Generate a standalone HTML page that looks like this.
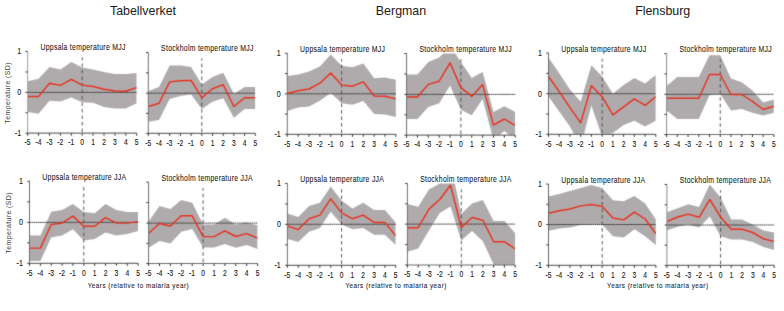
<!DOCTYPE html>
<html><head><meta charset="utf-8"><style>
html,body{margin:0;padding:0;background:#fff;}
body{width:784px;height:311px;overflow:hidden;}
svg{display:block;}
text{font-family:"Liberation Sans",sans-serif;}
</style></head><body>
<svg width="784" height="311" viewBox="0 0 784 311">
<rect width="784" height="311" fill="#fff"/>
<filter id="soft" x="0" y="0" width="784" height="311" filterUnits="userSpaceOnUse" color-interpolation-filters="sRGB"><feConvolveMatrix order="3" kernelMatrix="1 2 1 2 20 2 1 2 1" edgeMode="duplicate" preserveAlpha="true"/></filter>
<g filter="url(#soft)">
<rect width="784" height="311" fill="#fff"/>
<clipPath id="c0"><rect x="27.7" y="51.5" width="109" height="81.7"/></clipPath>
<g clip-path="url(#c0)">
<polygon points="27.7,81.2 38.6,78.8 49.5,66.9 60.4,69.5 71.3,62.1 82.2,67.6 93.1,69.5 104,72 114.9,73.9 125.8,73.9 136.7,73 136.7,103.3 125.8,108.6 114.9,108.6 104,106.9 93.1,102.8 82.2,102.3 71.3,97.5 60.4,101.4 49.5,100.8 38.6,113.7 27.7,112" fill="#afabac"/>
</g>
<line x1="27.7" y1="92.4" x2="136.7" y2="92.4" stroke="#303030" stroke-width="0.95" stroke-dasharray="1.6 0.5"/>
<line x1="82.2" y1="132" x2="82.2" y2="57.3" stroke="#4a4a4a" stroke-width="0.9" stroke-dasharray="3.6 2.9"/>
<g clip-path="url(#c0)"><polyline points="27.7,96.4 38.6,96.4 49.5,83.3 60.4,85.4 71.3,79.3 82.2,85.1 93.1,86.5 104,89.2 114.9,91 125.8,91.2 136.7,87.6" fill="none" stroke="#e8311f" stroke-width="1.45" stroke-linejoin="round"/></g>
<line x1="27.7" y1="51.5" x2="27.7" y2="133.2" stroke="#9c9c9c" stroke-width="1"/>
<line x1="27.7" y1="133.2" x2="136.7" y2="133.2" stroke="#6e6e6e" stroke-width="1.2"/>
<line x1="25.5" y1="51.5" x2="27.7" y2="51.5" stroke="#333333" stroke-width="1"/>
<line x1="25.5" y1="71.95" x2="27.7" y2="71.95" stroke="#333333" stroke-width="1"/>
<line x1="25.5" y1="92.4" x2="27.7" y2="92.4" stroke="#333333" stroke-width="1"/>
<line x1="25.5" y1="112.8" x2="27.7" y2="112.8" stroke="#333333" stroke-width="1"/>
<line x1="25.5" y1="133.2" x2="27.7" y2="133.2" stroke="#333333" stroke-width="1"/>
<line x1="27.7" y1="133.2" x2="27.7" y2="135.7" stroke="#333333" stroke-width="1"/>
<line x1="38.6" y1="133.2" x2="38.6" y2="135.7" stroke="#333333" stroke-width="1"/>
<line x1="49.5" y1="133.2" x2="49.5" y2="135.7" stroke="#333333" stroke-width="1"/>
<line x1="60.4" y1="133.2" x2="60.4" y2="135.7" stroke="#333333" stroke-width="1"/>
<line x1="71.3" y1="133.2" x2="71.3" y2="135.7" stroke="#333333" stroke-width="1"/>
<line x1="82.2" y1="133.2" x2="82.2" y2="135.7" stroke="#333333" stroke-width="1"/>
<line x1="93.1" y1="133.2" x2="93.1" y2="135.7" stroke="#333333" stroke-width="1"/>
<line x1="104" y1="133.2" x2="104" y2="135.7" stroke="#333333" stroke-width="1"/>
<line x1="114.9" y1="133.2" x2="114.9" y2="135.7" stroke="#333333" stroke-width="1"/>
<line x1="125.8" y1="133.2" x2="125.8" y2="135.7" stroke="#333333" stroke-width="1"/>
<line x1="136.7" y1="133.2" x2="136.7" y2="135.7" stroke="#333333" stroke-width="1"/>
<clipPath id="c1"><rect x="148.3" y="52.5" width="107" height="80.9"/></clipPath>
<g clip-path="url(#c1)">
<polygon points="148.3,91 159,87 169.7,65.4 180.4,65.4 191.1,66.9 201.8,84.4 212.5,77.1 223.2,72.7 233.9,93.8 244.6,87 255.3,87 255.3,109.1 244.6,109.1 233.9,117.8 223.2,98.2 212.5,101.8 201.8,109.1 191.1,94.5 180.4,96 169.7,98.9 159,120 148.3,121.7" fill="#afabac"/>
</g>
<line x1="148.3" y1="93.2" x2="255.3" y2="93.2" stroke="#303030" stroke-width="0.95" stroke-dasharray="1.6 0.5"/>
<line x1="201.8" y1="132.2" x2="201.8" y2="58.3" stroke="#4a4a4a" stroke-width="0.9" stroke-dasharray="3.6 2.9"/>
<g clip-path="url(#c1)"><polyline points="148.3,106.5 159,103.3 169.7,81.9 180.4,80.7 191.1,80.4 201.8,97.7 212.5,88.7 223.2,84.8 233.9,106.5 244.6,97.7 255.3,97.7" fill="none" stroke="#e8311f" stroke-width="1.45" stroke-linejoin="round"/></g>
<line x1="148.3" y1="52.5" x2="148.3" y2="133.4" stroke="#6e6e6e" stroke-width="1"/>
<line x1="148.3" y1="133.4" x2="255.3" y2="133.4" stroke="#6e6e6e" stroke-width="1.2"/>
<line x1="146.1" y1="52.5" x2="148.3" y2="52.5" stroke="#333333" stroke-width="1"/>
<line x1="146.1" y1="72.85" x2="148.3" y2="72.85" stroke="#333333" stroke-width="1"/>
<line x1="146.1" y1="93.2" x2="148.3" y2="93.2" stroke="#333333" stroke-width="1"/>
<line x1="146.1" y1="113.3" x2="148.3" y2="113.3" stroke="#333333" stroke-width="1"/>
<line x1="146.1" y1="133.4" x2="148.3" y2="133.4" stroke="#333333" stroke-width="1"/>
<line x1="148.3" y1="133.4" x2="148.3" y2="135.9" stroke="#333333" stroke-width="1"/>
<line x1="159" y1="133.4" x2="159" y2="135.9" stroke="#333333" stroke-width="1"/>
<line x1="169.7" y1="133.4" x2="169.7" y2="135.9" stroke="#333333" stroke-width="1"/>
<line x1="180.4" y1="133.4" x2="180.4" y2="135.9" stroke="#333333" stroke-width="1"/>
<line x1="191.1" y1="133.4" x2="191.1" y2="135.9" stroke="#333333" stroke-width="1"/>
<line x1="201.8" y1="133.4" x2="201.8" y2="135.9" stroke="#333333" stroke-width="1"/>
<line x1="212.5" y1="133.4" x2="212.5" y2="135.9" stroke="#333333" stroke-width="1"/>
<line x1="223.2" y1="133.4" x2="223.2" y2="135.9" stroke="#333333" stroke-width="1"/>
<line x1="233.9" y1="133.4" x2="233.9" y2="135.9" stroke="#333333" stroke-width="1"/>
<line x1="244.6" y1="133.4" x2="244.6" y2="135.9" stroke="#333333" stroke-width="1"/>
<line x1="255.3" y1="133.4" x2="255.3" y2="135.9" stroke="#333333" stroke-width="1"/>
<clipPath id="c2"><rect x="287.3" y="53.3" width="108.6" height="81"/></clipPath>
<g clip-path="url(#c2)">
<polygon points="287.3,76.1 298.16,74.6 309.02,71.6 319.88,66.6 330.74,54.5 341.6,65.7 352.46,67.2 363.32,63.6 374.18,78.2 385.04,77.4 395.9,79.7 395.9,117.1 385.04,114.6 374.18,113.9 363.32,101.1 352.46,104.7 341.6,103.3 330.74,93.1 319.88,100.8 309.02,106.5 298.16,107.6 287.3,111" fill="#afabac"/>
</g>
<line x1="287.3" y1="93.8" x2="395.9" y2="93.8" stroke="#303030" stroke-width="0.95" stroke-dasharray="1.6 0.5"/>
<line x1="341.6" y1="133.1" x2="341.6" y2="59.1" stroke="#4a4a4a" stroke-width="0.9" stroke-dasharray="3.6 2.9"/>
<g clip-path="url(#c2)"><polyline points="287.3,93.5 298.16,90.8 309.02,89 319.88,83.2 330.74,73 341.6,85.1 352.46,86.2 363.32,81.9 374.18,96 385.04,96.3 395.9,98.9" fill="none" stroke="#e8311f" stroke-width="1.45" stroke-linejoin="round"/></g>
<line x1="287.3" y1="53.3" x2="287.3" y2="134.3" stroke="#6e6e6e" stroke-width="1"/>
<line x1="287.3" y1="134.3" x2="395.9" y2="134.3" stroke="#6e6e6e" stroke-width="1.2"/>
<line x1="285.1" y1="53.3" x2="287.3" y2="53.3" stroke="#333333" stroke-width="1"/>
<line x1="285.1" y1="73.55" x2="287.3" y2="73.55" stroke="#333333" stroke-width="1"/>
<line x1="285.1" y1="93.8" x2="287.3" y2="93.8" stroke="#333333" stroke-width="1"/>
<line x1="285.1" y1="114.05" x2="287.3" y2="114.05" stroke="#333333" stroke-width="1"/>
<line x1="285.1" y1="134.3" x2="287.3" y2="134.3" stroke="#333333" stroke-width="1"/>
<line x1="287.3" y1="134.3" x2="287.3" y2="136.8" stroke="#333333" stroke-width="1"/>
<line x1="298.16" y1="134.3" x2="298.16" y2="136.8" stroke="#333333" stroke-width="1"/>
<line x1="309.02" y1="134.3" x2="309.02" y2="136.8" stroke="#333333" stroke-width="1"/>
<line x1="319.88" y1="134.3" x2="319.88" y2="136.8" stroke="#333333" stroke-width="1"/>
<line x1="330.74" y1="134.3" x2="330.74" y2="136.8" stroke="#333333" stroke-width="1"/>
<line x1="341.6" y1="134.3" x2="341.6" y2="136.8" stroke="#333333" stroke-width="1"/>
<line x1="352.46" y1="134.3" x2="352.46" y2="136.8" stroke="#333333" stroke-width="1"/>
<line x1="363.32" y1="134.3" x2="363.32" y2="136.8" stroke="#333333" stroke-width="1"/>
<line x1="374.18" y1="134.3" x2="374.18" y2="136.8" stroke="#333333" stroke-width="1"/>
<line x1="385.04" y1="134.3" x2="385.04" y2="136.8" stroke="#333333" stroke-width="1"/>
<line x1="395.9" y1="134.3" x2="395.9" y2="136.8" stroke="#333333" stroke-width="1"/>
<clipPath id="c3"><rect x="406.6" y="53.5" width="108.6" height="81.7"/></clipPath>
<g clip-path="url(#c3)">
<polygon points="406.6,74.5 417.46,74.5 428.32,62.1 439.18,57.5 450.04,46.3 460.9,62 471.76,78 482.62,72 493.48,112 504.34,106.2 515.2,112 515.2,140 504.34,130.9 493.48,140 482.62,98.9 471.76,115.3 460.9,109.8 450.04,85.5 439.18,103.3 428.32,106.9 417.46,119 406.6,119" fill="#afabac"/>
</g>
<line x1="406.6" y1="94.4" x2="515.2" y2="94.4" stroke="#303030" stroke-width="0.95" stroke-dasharray="1.6 0.5"/>
<line x1="460.9" y1="134" x2="460.9" y2="59.3" stroke="#4a4a4a" stroke-width="0.9" stroke-dasharray="3.6 2.9"/>
<g clip-path="url(#c3)"><polyline points="406.6,97 417.46,97 428.32,84.4 439.18,81.2 450.04,62.8 460.9,87.6 471.76,96.4 482.62,84.6 493.48,125.1 504.34,119 515.2,125.5" fill="none" stroke="#e8311f" stroke-width="1.45" stroke-linejoin="round"/></g>
<line x1="406.6" y1="53.5" x2="406.6" y2="135.2" stroke="#6e6e6e" stroke-width="1"/>
<line x1="406.6" y1="135.2" x2="515.2" y2="135.2" stroke="#6e6e6e" stroke-width="1.2"/>
<line x1="404.4" y1="53.5" x2="406.6" y2="53.5" stroke="#333333" stroke-width="1"/>
<line x1="404.4" y1="73.95" x2="406.6" y2="73.95" stroke="#333333" stroke-width="1"/>
<line x1="404.4" y1="94.4" x2="406.6" y2="94.4" stroke="#333333" stroke-width="1"/>
<line x1="404.4" y1="114.8" x2="406.6" y2="114.8" stroke="#333333" stroke-width="1"/>
<line x1="404.4" y1="135.2" x2="406.6" y2="135.2" stroke="#333333" stroke-width="1"/>
<line x1="406.6" y1="135.2" x2="406.6" y2="137.7" stroke="#333333" stroke-width="1"/>
<line x1="417.46" y1="135.2" x2="417.46" y2="137.7" stroke="#333333" stroke-width="1"/>
<line x1="428.32" y1="135.2" x2="428.32" y2="137.7" stroke="#333333" stroke-width="1"/>
<line x1="439.18" y1="135.2" x2="439.18" y2="137.7" stroke="#333333" stroke-width="1"/>
<line x1="450.04" y1="135.2" x2="450.04" y2="137.7" stroke="#333333" stroke-width="1"/>
<line x1="460.9" y1="135.2" x2="460.9" y2="137.7" stroke="#333333" stroke-width="1"/>
<line x1="471.76" y1="135.2" x2="471.76" y2="137.7" stroke="#333333" stroke-width="1"/>
<line x1="482.62" y1="135.2" x2="482.62" y2="137.7" stroke="#333333" stroke-width="1"/>
<line x1="493.48" y1="135.2" x2="493.48" y2="137.7" stroke="#333333" stroke-width="1"/>
<line x1="504.34" y1="135.2" x2="504.34" y2="137.7" stroke="#333333" stroke-width="1"/>
<line x1="515.2" y1="135.2" x2="515.2" y2="137.7" stroke="#333333" stroke-width="1"/>
<clipPath id="c4"><rect x="548.5" y="53" width="107.3" height="81.3"/></clipPath>
<g clip-path="url(#c4)">
<polygon points="548.5,57.5 559.23,73.2 569.96,89.4 580.69,101.8 591.42,65.2 602.15,76.4 612.88,93.8 623.61,85.1 634.34,78.1 645.07,83.6 655.8,74.9 655.8,120.7 645.07,126.5 634.34,120.7 623.61,125.1 612.88,133 602.15,137 591.42,105.4 580.69,146.8 569.96,126.5 559.23,111.5 548.5,96.5" fill="#afabac"/>
</g>
<line x1="548.5" y1="93.7" x2="655.8" y2="93.7" stroke="#303030" stroke-width="0.95" stroke-dasharray="1.6 0.5"/>
<line x1="602.15" y1="133.1" x2="602.15" y2="58.8" stroke="#4a4a4a" stroke-width="0.9" stroke-dasharray="3.6 2.9"/>
<g clip-path="url(#c4)"><polyline points="548.5,76.4 559.23,91.6 569.96,107.6 580.69,122.9 591.42,85.8 602.15,96.7 612.88,114.9 623.61,106.9 634.34,98.9 645.07,105.4 655.8,96.7" fill="none" stroke="#e8311f" stroke-width="1.45" stroke-linejoin="round"/></g>
<line x1="548.5" y1="53" x2="548.5" y2="134.3" stroke="#6e6e6e" stroke-width="1"/>
<line x1="548.5" y1="134.3" x2="655.8" y2="134.3" stroke="#6e6e6e" stroke-width="1.2"/>
<line x1="546.3" y1="53" x2="548.5" y2="53" stroke="#333333" stroke-width="1"/>
<line x1="546.3" y1="73.35" x2="548.5" y2="73.35" stroke="#333333" stroke-width="1"/>
<line x1="546.3" y1="93.7" x2="548.5" y2="93.7" stroke="#333333" stroke-width="1"/>
<line x1="546.3" y1="114" x2="548.5" y2="114" stroke="#333333" stroke-width="1"/>
<line x1="546.3" y1="134.3" x2="548.5" y2="134.3" stroke="#333333" stroke-width="1"/>
<line x1="548.5" y1="134.3" x2="548.5" y2="136.8" stroke="#333333" stroke-width="1"/>
<line x1="559.23" y1="134.3" x2="559.23" y2="136.8" stroke="#333333" stroke-width="1"/>
<line x1="569.96" y1="134.3" x2="569.96" y2="136.8" stroke="#333333" stroke-width="1"/>
<line x1="580.69" y1="134.3" x2="580.69" y2="136.8" stroke="#333333" stroke-width="1"/>
<line x1="591.42" y1="134.3" x2="591.42" y2="136.8" stroke="#333333" stroke-width="1"/>
<line x1="602.15" y1="134.3" x2="602.15" y2="136.8" stroke="#333333" stroke-width="1"/>
<line x1="612.88" y1="134.3" x2="612.88" y2="136.8" stroke="#333333" stroke-width="1"/>
<line x1="623.61" y1="134.3" x2="623.61" y2="136.8" stroke="#333333" stroke-width="1"/>
<line x1="634.34" y1="134.3" x2="634.34" y2="136.8" stroke="#333333" stroke-width="1"/>
<line x1="645.07" y1="134.3" x2="645.07" y2="136.8" stroke="#333333" stroke-width="1"/>
<line x1="655.8" y1="134.3" x2="655.8" y2="136.8" stroke="#333333" stroke-width="1"/>
<clipPath id="c5"><rect x="666.6" y="53.5" width="107.3" height="81"/></clipPath>
<g clip-path="url(#c5)">
<polygon points="666.6,86.1 677.33,77.1 688.06,77.1 698.79,77.1 709.52,55.3 720.25,55.3 730.98,78.5 741.71,82.2 752.44,90.5 763.17,102.5 773.9,99.6 773.9,112.7 763.17,115.6 752.44,112.7 741.71,109.1 730.98,110.5 720.25,94 709.52,95.3 698.79,119 688.06,119 677.33,119 666.6,110.5" fill="#afabac"/>
</g>
<line x1="666.6" y1="94.3" x2="773.9" y2="94.3" stroke="#303030" stroke-width="0.95" stroke-dasharray="1.6 0.5"/>
<line x1="720.25" y1="133.3" x2="720.25" y2="59.3" stroke="#4a4a4a" stroke-width="0.9" stroke-dasharray="3.6 2.9"/>
<g clip-path="url(#c5)"><polyline points="666.6,98.2 677.33,98.2 688.06,98.2 698.79,98.2 709.52,74.5 720.25,74.5 730.98,94.5 741.71,94.5 752.44,101.4 763.17,109.5 773.9,106.2" fill="none" stroke="#e8311f" stroke-width="1.45" stroke-linejoin="round"/></g>
<line x1="666.6" y1="53.5" x2="666.6" y2="134.5" stroke="#8a8a8a" stroke-width="1"/>
<line x1="666.6" y1="134.5" x2="773.9" y2="134.5" stroke="#6e6e6e" stroke-width="1.2"/>
<line x1="664.4" y1="53.5" x2="666.6" y2="53.5" stroke="#333333" stroke-width="1"/>
<line x1="664.4" y1="73.9" x2="666.6" y2="73.9" stroke="#333333" stroke-width="1"/>
<line x1="664.4" y1="94.3" x2="666.6" y2="94.3" stroke="#333333" stroke-width="1"/>
<line x1="664.4" y1="114.4" x2="666.6" y2="114.4" stroke="#333333" stroke-width="1"/>
<line x1="664.4" y1="134.5" x2="666.6" y2="134.5" stroke="#333333" stroke-width="1"/>
<line x1="666.6" y1="134.5" x2="666.6" y2="137" stroke="#333333" stroke-width="1"/>
<line x1="677.33" y1="134.5" x2="677.33" y2="137" stroke="#333333" stroke-width="1"/>
<line x1="688.06" y1="134.5" x2="688.06" y2="137" stroke="#333333" stroke-width="1"/>
<line x1="698.79" y1="134.5" x2="698.79" y2="137" stroke="#333333" stroke-width="1"/>
<line x1="709.52" y1="134.5" x2="709.52" y2="137" stroke="#333333" stroke-width="1"/>
<line x1="720.25" y1="134.5" x2="720.25" y2="137" stroke="#333333" stroke-width="1"/>
<line x1="730.98" y1="134.5" x2="730.98" y2="137" stroke="#333333" stroke-width="1"/>
<line x1="741.71" y1="134.5" x2="741.71" y2="137" stroke="#333333" stroke-width="1"/>
<line x1="752.44" y1="134.5" x2="752.44" y2="137" stroke="#333333" stroke-width="1"/>
<line x1="763.17" y1="134.5" x2="763.17" y2="137" stroke="#333333" stroke-width="1"/>
<line x1="773.9" y1="134.5" x2="773.9" y2="137" stroke="#333333" stroke-width="1"/>
<clipPath id="c6"><rect x="29.5" y="181.2" width="108.6" height="82.1"/></clipPath>
<g clip-path="url(#c6)">
<polygon points="29.5,235.5 40.36,235.5 51.22,211.7 62.08,210 72.94,203.9 83.8,211.9 94.66,213.3 105.52,203.9 116.38,210 127.24,211.9 138.1,211.9 138.1,231.1 127.24,234 116.38,235.5 105.52,232.5 94.66,239.1 83.8,240.5 72.94,229.3 62.08,235.5 51.22,237.6 40.36,260.9 29.5,260.9" fill="#afabac"/>
</g>
<line x1="29.5" y1="222.4" x2="138.1" y2="222.4" stroke="#303030" stroke-width="0.95" stroke-dasharray="1.6 0.5"/>
<line x1="83.8" y1="262.1" x2="83.8" y2="187" stroke="#4a4a4a" stroke-width="0.9" stroke-dasharray="3.6 2.9"/>
<g clip-path="url(#c6)"><polyline points="29.5,248.1 40.36,248.1 51.22,224.5 62.08,223.1 72.94,216.1 83.8,226.3 94.66,226.3 105.52,217.6 116.38,223.1 127.24,223.1 138.1,221.6" fill="none" stroke="#e8311f" stroke-width="1.45" stroke-linejoin="round"/></g>
<line x1="29.5" y1="181.2" x2="29.5" y2="263.3" stroke="#6e6e6e" stroke-width="1"/>
<line x1="29.5" y1="263.3" x2="138.1" y2="263.3" stroke="#6e6e6e" stroke-width="1.2"/>
<line x1="27.3" y1="181.2" x2="29.5" y2="181.2" stroke="#333333" stroke-width="1"/>
<line x1="27.3" y1="201.8" x2="29.5" y2="201.8" stroke="#333333" stroke-width="1"/>
<line x1="27.3" y1="222.4" x2="29.5" y2="222.4" stroke="#333333" stroke-width="1"/>
<line x1="27.3" y1="242.85" x2="29.5" y2="242.85" stroke="#333333" stroke-width="1"/>
<line x1="27.3" y1="263.3" x2="29.5" y2="263.3" stroke="#333333" stroke-width="1"/>
<line x1="29.5" y1="263.3" x2="29.5" y2="265.8" stroke="#333333" stroke-width="1"/>
<line x1="40.36" y1="263.3" x2="40.36" y2="265.8" stroke="#333333" stroke-width="1"/>
<line x1="51.22" y1="263.3" x2="51.22" y2="265.8" stroke="#333333" stroke-width="1"/>
<line x1="62.08" y1="263.3" x2="62.08" y2="265.8" stroke="#333333" stroke-width="1"/>
<line x1="72.94" y1="263.3" x2="72.94" y2="265.8" stroke="#333333" stroke-width="1"/>
<line x1="83.8" y1="263.3" x2="83.8" y2="265.8" stroke="#333333" stroke-width="1"/>
<line x1="94.66" y1="263.3" x2="94.66" y2="265.8" stroke="#333333" stroke-width="1"/>
<line x1="105.52" y1="263.3" x2="105.52" y2="265.8" stroke="#333333" stroke-width="1"/>
<line x1="116.38" y1="263.3" x2="116.38" y2="265.8" stroke="#333333" stroke-width="1"/>
<line x1="127.24" y1="263.3" x2="127.24" y2="265.8" stroke="#333333" stroke-width="1"/>
<line x1="138.1" y1="263.3" x2="138.1" y2="265.8" stroke="#333333" stroke-width="1"/>
<clipPath id="c7"><rect x="148.6" y="182.1" width="109" height="81.4"/></clipPath>
<g clip-path="url(#c7)">
<polygon points="148.6,221.6 159.5,206.1 170.4,209 181.3,200.1 192.2,202.7 203.1,224.5 214,224.5 224.9,217.7 235.8,224.5 246.7,222.5 257.6,225.3 257.6,249 246.7,244.9 235.8,247.8 224.9,243.9 214,247.5 203.1,247.5 192.2,228.9 181.3,231.8 170.4,243.4 159.5,241 148.6,247.8" fill="#afabac"/>
</g>
<line x1="148.6" y1="223.1" x2="257.6" y2="223.1" stroke="#303030" stroke-width="0.95" stroke-dasharray="1.6 0.5"/>
<line x1="203.1" y1="262.3" x2="203.1" y2="187.9" stroke="#4a4a4a" stroke-width="0.9" stroke-dasharray="3.6 2.9"/>
<g clip-path="url(#c7)"><polyline points="148.6,233.3 159.5,223.5 170.4,226 181.3,215.8 192.2,215.8 203.1,236.6 214,236.6 224.9,230.8 235.8,236.5 246.7,233.6 257.6,238.1" fill="none" stroke="#e8311f" stroke-width="1.45" stroke-linejoin="round"/></g>
<line x1="148.6" y1="182.1" x2="148.6" y2="263.5" stroke="#6e6e6e" stroke-width="1"/>
<line x1="148.6" y1="263.5" x2="257.6" y2="263.5" stroke="#6e6e6e" stroke-width="1.2"/>
<line x1="146.4" y1="182.1" x2="148.6" y2="182.1" stroke="#333333" stroke-width="1"/>
<line x1="146.4" y1="202.6" x2="148.6" y2="202.6" stroke="#333333" stroke-width="1"/>
<line x1="146.4" y1="223.1" x2="148.6" y2="223.1" stroke="#333333" stroke-width="1"/>
<line x1="146.4" y1="243.3" x2="148.6" y2="243.3" stroke="#333333" stroke-width="1"/>
<line x1="146.4" y1="263.5" x2="148.6" y2="263.5" stroke="#333333" stroke-width="1"/>
<line x1="148.6" y1="263.5" x2="148.6" y2="266" stroke="#333333" stroke-width="1"/>
<line x1="159.5" y1="263.5" x2="159.5" y2="266" stroke="#333333" stroke-width="1"/>
<line x1="170.4" y1="263.5" x2="170.4" y2="266" stroke="#333333" stroke-width="1"/>
<line x1="181.3" y1="263.5" x2="181.3" y2="266" stroke="#333333" stroke-width="1"/>
<line x1="192.2" y1="263.5" x2="192.2" y2="266" stroke="#333333" stroke-width="1"/>
<line x1="203.1" y1="263.5" x2="203.1" y2="266" stroke="#333333" stroke-width="1"/>
<line x1="214" y1="263.5" x2="214" y2="266" stroke="#333333" stroke-width="1"/>
<line x1="224.9" y1="263.5" x2="224.9" y2="266" stroke="#333333" stroke-width="1"/>
<line x1="235.8" y1="263.5" x2="235.8" y2="266" stroke="#333333" stroke-width="1"/>
<line x1="246.7" y1="263.5" x2="246.7" y2="266" stroke="#333333" stroke-width="1"/>
<line x1="257.6" y1="263.5" x2="257.6" y2="266" stroke="#333333" stroke-width="1"/>
<clipPath id="c8"><rect x="287.4" y="183.5" width="108.3" height="81.8"/></clipPath>
<g clip-path="url(#c8)">
<polygon points="287.4,213.6 298.23,217 309.06,206.1 319.89,202.7 330.72,186.4 341.55,200.5 352.38,208.5 363.21,202.7 374.04,210 384.87,210 395.7,222.4 395.7,244.9 384.87,234.7 374.04,234.7 363.21,227.9 352.38,229.3 341.55,224.5 330.72,211.7 319.89,227.9 309.06,231.8 298.23,242 287.4,239.1" fill="#afabac"/>
</g>
<line x1="287.4" y1="224.3" x2="395.7" y2="224.3" stroke="#303030" stroke-width="0.95" stroke-dasharray="1.6 0.5"/>
<line x1="341.55" y1="264.1" x2="341.55" y2="189.3" stroke="#4a4a4a" stroke-width="0.9" stroke-dasharray="3.6 2.9"/>
<g clip-path="url(#c8)"><polyline points="287.4,226 298.23,229.6 309.06,218.7 319.89,215.1 330.72,198.8 341.55,212.9 352.38,218.7 363.21,215.1 374.04,222.4 384.87,222.4 395.7,235.7" fill="none" stroke="#e8311f" stroke-width="1.45" stroke-linejoin="round"/></g>
<line x1="287.4" y1="183.5" x2="287.4" y2="265.3" stroke="#6e6e6e" stroke-width="1"/>
<line x1="287.4" y1="265.3" x2="395.7" y2="265.3" stroke="#6e6e6e" stroke-width="1.2"/>
<line x1="285.2" y1="183.5" x2="287.4" y2="183.5" stroke="#333333" stroke-width="1"/>
<line x1="285.2" y1="203.9" x2="287.4" y2="203.9" stroke="#333333" stroke-width="1"/>
<line x1="285.2" y1="224.3" x2="287.4" y2="224.3" stroke="#333333" stroke-width="1"/>
<line x1="285.2" y1="244.8" x2="287.4" y2="244.8" stroke="#333333" stroke-width="1"/>
<line x1="285.2" y1="265.3" x2="287.4" y2="265.3" stroke="#333333" stroke-width="1"/>
<line x1="287.4" y1="265.3" x2="287.4" y2="267.8" stroke="#333333" stroke-width="1"/>
<line x1="298.23" y1="265.3" x2="298.23" y2="267.8" stroke="#333333" stroke-width="1"/>
<line x1="309.06" y1="265.3" x2="309.06" y2="267.8" stroke="#333333" stroke-width="1"/>
<line x1="319.89" y1="265.3" x2="319.89" y2="267.8" stroke="#333333" stroke-width="1"/>
<line x1="330.72" y1="265.3" x2="330.72" y2="267.8" stroke="#333333" stroke-width="1"/>
<line x1="341.55" y1="265.3" x2="341.55" y2="267.8" stroke="#333333" stroke-width="1"/>
<line x1="352.38" y1="265.3" x2="352.38" y2="267.8" stroke="#333333" stroke-width="1"/>
<line x1="363.21" y1="265.3" x2="363.21" y2="267.8" stroke="#333333" stroke-width="1"/>
<line x1="374.04" y1="265.3" x2="374.04" y2="267.8" stroke="#333333" stroke-width="1"/>
<line x1="384.87" y1="265.3" x2="384.87" y2="267.8" stroke="#333333" stroke-width="1"/>
<line x1="395.7" y1="265.3" x2="395.7" y2="267.8" stroke="#333333" stroke-width="1"/>
<clipPath id="c9"><rect x="407.4" y="183.5" width="107.8" height="81.5"/></clipPath>
<g clip-path="url(#c9)">
<polygon points="407.4,203.9 418.18,206.8 428.96,189.4 439.74,183.5 450.52,163 461.3,214 472.08,203.4 482.86,200.1 493.64,220.9 504.42,220.9 515.2,233.3 515.2,275 504.42,275 493.64,264.5 482.86,241.3 472.08,231.1 461.3,240.5 450.52,206.5 439.74,213 428.96,230.4 418.18,248.5 407.4,251.7" fill="#afabac"/>
</g>
<line x1="407.4" y1="224.1" x2="515.2" y2="224.1" stroke="#303030" stroke-width="0.95" stroke-dasharray="1.6 0.5"/>
<line x1="461.3" y1="263.8" x2="461.3" y2="189.3" stroke="#4a4a4a" stroke-width="0.9" stroke-dasharray="3.6 2.9"/>
<g clip-path="url(#c9)"><polyline points="407.4,227.7 418.18,227.7 428.96,209.1 439.74,199.5 450.52,185.3 461.3,227.5 472.08,217.5 482.86,220.2 493.64,241.7 504.42,241.7 515.2,249" fill="none" stroke="#e8311f" stroke-width="1.45" stroke-linejoin="round"/></g>
<line x1="407.4" y1="183.5" x2="407.4" y2="265" stroke="#6e6e6e" stroke-width="1"/>
<line x1="407.4" y1="265" x2="515.2" y2="265" stroke="#6e6e6e" stroke-width="1.2"/>
<line x1="405.2" y1="183.5" x2="407.4" y2="183.5" stroke="#333333" stroke-width="1"/>
<line x1="405.2" y1="203.8" x2="407.4" y2="203.8" stroke="#333333" stroke-width="1"/>
<line x1="405.2" y1="224.1" x2="407.4" y2="224.1" stroke="#333333" stroke-width="1"/>
<line x1="405.2" y1="244.55" x2="407.4" y2="244.55" stroke="#333333" stroke-width="1"/>
<line x1="405.2" y1="265" x2="407.4" y2="265" stroke="#333333" stroke-width="1"/>
<line x1="407.4" y1="265" x2="407.4" y2="267.5" stroke="#333333" stroke-width="1"/>
<line x1="418.18" y1="265" x2="418.18" y2="267.5" stroke="#333333" stroke-width="1"/>
<line x1="428.96" y1="265" x2="428.96" y2="267.5" stroke="#333333" stroke-width="1"/>
<line x1="439.74" y1="265" x2="439.74" y2="267.5" stroke="#333333" stroke-width="1"/>
<line x1="450.52" y1="265" x2="450.52" y2="267.5" stroke="#333333" stroke-width="1"/>
<line x1="461.3" y1="265" x2="461.3" y2="267.5" stroke="#333333" stroke-width="1"/>
<line x1="472.08" y1="265" x2="472.08" y2="267.5" stroke="#333333" stroke-width="1"/>
<line x1="482.86" y1="265" x2="482.86" y2="267.5" stroke="#333333" stroke-width="1"/>
<line x1="493.64" y1="265" x2="493.64" y2="267.5" stroke="#333333" stroke-width="1"/>
<line x1="504.42" y1="265" x2="504.42" y2="267.5" stroke="#333333" stroke-width="1"/>
<line x1="515.2" y1="265" x2="515.2" y2="267.5" stroke="#333333" stroke-width="1"/>
<clipPath id="c10"><rect x="548.5" y="184.1" width="107.4" height="81.2"/></clipPath>
<g clip-path="url(#c10)">
<polygon points="548.5,196.6 559.24,194 569.98,191.1 580.72,187.9 591.46,185 602.2,187.9 612.94,200.2 623.68,201.3 634.42,195.9 645.16,203.4 655.9,219.4 655.9,244.9 645.16,236.2 634.42,229.3 623.68,237.6 612.94,236.2 602.2,224.5 591.46,224.5 580.72,225 569.98,227.5 559.24,228.5 548.5,230.7" fill="#afabac"/>
</g>
<line x1="548.5" y1="224.5" x2="655.9" y2="224.5" stroke="#303030" stroke-width="0.95" stroke-dasharray="1.6 0.5"/>
<line x1="602.2" y1="264.1" x2="602.2" y2="189.9" stroke="#4a4a4a" stroke-width="0.9" stroke-dasharray="3.6 2.9"/>
<g clip-path="url(#c10)"><polyline points="548.5,213.3 559.24,210.7 569.98,209 580.72,205.9 591.46,204.5 602.2,206.4 612.94,218 623.68,219.9 634.42,212.2 645.16,219 655.9,233.7" fill="none" stroke="#e8311f" stroke-width="1.45" stroke-linejoin="round"/></g>
<line x1="548.5" y1="184.1" x2="548.5" y2="265.3" stroke="#666666" stroke-width="1"/>
<line x1="548.5" y1="265.3" x2="655.9" y2="265.3" stroke="#6e6e6e" stroke-width="1.2"/>
<line x1="546.3" y1="184.1" x2="548.5" y2="184.1" stroke="#333333" stroke-width="1"/>
<line x1="546.3" y1="204.3" x2="548.5" y2="204.3" stroke="#333333" stroke-width="1"/>
<line x1="546.3" y1="224.5" x2="548.5" y2="224.5" stroke="#333333" stroke-width="1"/>
<line x1="546.3" y1="244.9" x2="548.5" y2="244.9" stroke="#333333" stroke-width="1"/>
<line x1="546.3" y1="265.3" x2="548.5" y2="265.3" stroke="#333333" stroke-width="1"/>
<line x1="548.5" y1="265.3" x2="548.5" y2="267.8" stroke="#333333" stroke-width="1"/>
<line x1="559.24" y1="265.3" x2="559.24" y2="267.8" stroke="#333333" stroke-width="1"/>
<line x1="569.98" y1="265.3" x2="569.98" y2="267.8" stroke="#333333" stroke-width="1"/>
<line x1="580.72" y1="265.3" x2="580.72" y2="267.8" stroke="#333333" stroke-width="1"/>
<line x1="591.46" y1="265.3" x2="591.46" y2="267.8" stroke="#333333" stroke-width="1"/>
<line x1="602.2" y1="265.3" x2="602.2" y2="267.8" stroke="#333333" stroke-width="1"/>
<line x1="612.94" y1="265.3" x2="612.94" y2="267.8" stroke="#333333" stroke-width="1"/>
<line x1="623.68" y1="265.3" x2="623.68" y2="267.8" stroke="#333333" stroke-width="1"/>
<line x1="634.42" y1="265.3" x2="634.42" y2="267.8" stroke="#333333" stroke-width="1"/>
<line x1="645.16" y1="265.3" x2="645.16" y2="267.8" stroke="#333333" stroke-width="1"/>
<line x1="655.9" y1="265.3" x2="655.9" y2="267.8" stroke="#333333" stroke-width="1"/>
<clipPath id="c11"><rect x="666.9" y="184.5" width="107.3" height="80.9"/></clipPath>
<g clip-path="url(#c11)">
<polygon points="666.9,212.2 677.63,208.2 688.36,204.2 699.09,207.1 709.82,184.5 720.55,197.6 731.28,219.4 742.01,219.4 752.74,224.5 763.47,230.4 774.2,232.5 774.2,250 763.47,247.1 752.74,242 742.01,239.5 731.28,239.5 720.55,236.2 709.82,216.5 699.09,227.5 688.36,224.5 677.63,226.7 666.9,230.4" fill="#afabac"/>
</g>
<line x1="666.9" y1="225" x2="774.2" y2="225" stroke="#303030" stroke-width="0.95" stroke-dasharray="1.6 0.5"/>
<line x1="720.55" y1="264.2" x2="720.55" y2="190.3" stroke="#4a4a4a" stroke-width="0.9" stroke-dasharray="3.6 2.9"/>
<g clip-path="url(#c11)"><polyline points="666.9,221.6 677.63,217 688.36,214.1 699.09,217.3 709.82,199.4 720.55,217 731.28,229.3 742.01,229.3 752.74,232.5 763.47,238.8 774.2,241.6" fill="none" stroke="#e8311f" stroke-width="1.45" stroke-linejoin="round"/></g>
<line x1="666.9" y1="184.5" x2="666.9" y2="265.4" stroke="#8a8a8a" stroke-width="1"/>
<line x1="666.9" y1="265.4" x2="774.2" y2="265.4" stroke="#6e6e6e" stroke-width="1.2"/>
<line x1="664.7" y1="184.5" x2="666.9" y2="184.5" stroke="#333333" stroke-width="1"/>
<line x1="664.7" y1="204.75" x2="666.9" y2="204.75" stroke="#333333" stroke-width="1"/>
<line x1="664.7" y1="225" x2="666.9" y2="225" stroke="#333333" stroke-width="1"/>
<line x1="664.7" y1="245.2" x2="666.9" y2="245.2" stroke="#333333" stroke-width="1"/>
<line x1="664.7" y1="265.4" x2="666.9" y2="265.4" stroke="#333333" stroke-width="1"/>
<line x1="666.9" y1="265.4" x2="666.9" y2="267.9" stroke="#333333" stroke-width="1"/>
<line x1="677.63" y1="265.4" x2="677.63" y2="267.9" stroke="#333333" stroke-width="1"/>
<line x1="688.36" y1="265.4" x2="688.36" y2="267.9" stroke="#333333" stroke-width="1"/>
<line x1="699.09" y1="265.4" x2="699.09" y2="267.9" stroke="#333333" stroke-width="1"/>
<line x1="709.82" y1="265.4" x2="709.82" y2="267.9" stroke="#333333" stroke-width="1"/>
<line x1="720.55" y1="265.4" x2="720.55" y2="267.9" stroke="#333333" stroke-width="1"/>
<line x1="731.28" y1="265.4" x2="731.28" y2="267.9" stroke="#333333" stroke-width="1"/>
<line x1="742.01" y1="265.4" x2="742.01" y2="267.9" stroke="#333333" stroke-width="1"/>
<line x1="752.74" y1="265.4" x2="752.74" y2="267.9" stroke="#333333" stroke-width="1"/>
<line x1="763.47" y1="265.4" x2="763.47" y2="267.9" stroke="#333333" stroke-width="1"/>
<line x1="774.2" y1="265.4" x2="774.2" y2="267.9" stroke="#333333" stroke-width="1"/>
</g>
<text x="143" y="15" font-size="12.4" text-anchor="middle" fill="#1a1a1a">Tabellverket</text>
<text transform="translate(138.4 288.2) scale(0.86 1)" font-size="7.4" letter-spacing="0.55" text-anchor="middle" fill="#222" stroke="#222" stroke-width="0.08">Years (relative to malaria year)</text>
<text x="401" y="15" font-size="12.4" text-anchor="middle" fill="#1a1a1a">Bergman</text>
<text transform="translate(396.1 288.2) scale(0.86 1)" font-size="7.4" letter-spacing="0.55" text-anchor="middle" fill="#222" stroke="#222" stroke-width="0.08">Years (relative to malaria year)</text>
<text x="662.7" y="15" font-size="12.4" text-anchor="middle" fill="#1a1a1a">Flensburg</text>
<text transform="translate(657.8 288.2) scale(0.86 1)" font-size="7.4" letter-spacing="0.55" text-anchor="middle" fill="#222" stroke="#222" stroke-width="0.08">Years (relative to malaria year)</text>
<text transform="translate(27.6 145.4) scale(0.8 1)" font-size="8.4" text-anchor="middle" fill="#1a1a1a" stroke="#111" stroke-width="0.12">-5</text>
<text transform="translate(38.5 145.4) scale(0.8 1)" font-size="8.4" text-anchor="middle" fill="#1a1a1a" stroke="#111" stroke-width="0.12">-4</text>
<text transform="translate(49.4 145.4) scale(0.8 1)" font-size="8.4" text-anchor="middle" fill="#1a1a1a" stroke="#111" stroke-width="0.12">-3</text>
<text transform="translate(60.3 145.4) scale(0.8 1)" font-size="8.4" text-anchor="middle" fill="#1a1a1a" stroke="#111" stroke-width="0.12">-2</text>
<text transform="translate(71.2 145.4) scale(0.8 1)" font-size="8.4" text-anchor="middle" fill="#1a1a1a" stroke="#111" stroke-width="0.12">-1</text>
<text transform="translate(82.2 145.4) scale(0.8 1)" font-size="8.4" text-anchor="middle" fill="#1a1a1a" stroke="#111" stroke-width="0.12">0</text>
<text transform="translate(93.1 145.4) scale(0.8 1)" font-size="8.4" text-anchor="middle" fill="#1a1a1a" stroke="#111" stroke-width="0.12">1</text>
<text transform="translate(104 145.4) scale(0.8 1)" font-size="8.4" text-anchor="middle" fill="#1a1a1a" stroke="#111" stroke-width="0.12">2</text>
<text transform="translate(114.9 145.4) scale(0.8 1)" font-size="8.4" text-anchor="middle" fill="#1a1a1a" stroke="#111" stroke-width="0.12">3</text>
<text transform="translate(125.8 145.4) scale(0.8 1)" font-size="8.4" text-anchor="middle" fill="#1a1a1a" stroke="#111" stroke-width="0.12">4</text>
<text transform="translate(136.7 145.4) scale(0.8 1)" font-size="8.4" text-anchor="middle" fill="#1a1a1a" stroke="#111" stroke-width="0.12">5</text>
<text transform="translate(40.5 50.1) scale(0.84 1)" font-size="8.2" letter-spacing="0.33" fill="#1a1a1a" stroke="#222" stroke-width="0.08">Uppsala temperature MJJ</text>
<text transform="translate(21.1 54.3) scale(0.84 1)" font-size="8.4" text-anchor="end" fill="#1a1a1a" stroke="#111" stroke-width="0.12">1</text>
<text transform="translate(21.1 95.2) scale(0.84 1)" font-size="8.4" text-anchor="end" fill="#1a1a1a" stroke="#111" stroke-width="0.12">0</text>
<text transform="translate(21.1 136) scale(0.84 1)" font-size="8.4" text-anchor="end" fill="#1a1a1a" stroke="#111" stroke-width="0.12">-1</text>
<text x="9.7" y="92.9" font-size="7" letter-spacing="0.37" text-anchor="middle" fill="#3a3a3a" transform="rotate(-90 9.7 92.9)">Temperature (SD)</text>
<text transform="translate(148.2 145.6) scale(0.8 1)" font-size="8.4" text-anchor="middle" fill="#1a1a1a" stroke="#111" stroke-width="0.12">-5</text>
<text transform="translate(158.9 145.6) scale(0.8 1)" font-size="8.4" text-anchor="middle" fill="#1a1a1a" stroke="#111" stroke-width="0.12">-4</text>
<text transform="translate(169.6 145.6) scale(0.8 1)" font-size="8.4" text-anchor="middle" fill="#1a1a1a" stroke="#111" stroke-width="0.12">-3</text>
<text transform="translate(180.3 145.6) scale(0.8 1)" font-size="8.4" text-anchor="middle" fill="#1a1a1a" stroke="#111" stroke-width="0.12">-2</text>
<text transform="translate(191 145.6) scale(0.8 1)" font-size="8.4" text-anchor="middle" fill="#1a1a1a" stroke="#111" stroke-width="0.12">-1</text>
<text transform="translate(201.8 145.6) scale(0.8 1)" font-size="8.4" text-anchor="middle" fill="#1a1a1a" stroke="#111" stroke-width="0.12">0</text>
<text transform="translate(212.5 145.6) scale(0.8 1)" font-size="8.4" text-anchor="middle" fill="#1a1a1a" stroke="#111" stroke-width="0.12">1</text>
<text transform="translate(223.2 145.6) scale(0.8 1)" font-size="8.4" text-anchor="middle" fill="#1a1a1a" stroke="#111" stroke-width="0.12">2</text>
<text transform="translate(233.9 145.6) scale(0.8 1)" font-size="8.4" text-anchor="middle" fill="#1a1a1a" stroke="#111" stroke-width="0.12">3</text>
<text transform="translate(244.6 145.6) scale(0.8 1)" font-size="8.4" text-anchor="middle" fill="#1a1a1a" stroke="#111" stroke-width="0.12">4</text>
<text transform="translate(255.3 145.6) scale(0.8 1)" font-size="8.4" text-anchor="middle" fill="#1a1a1a" stroke="#111" stroke-width="0.12">5</text>
<text transform="translate(161.1 51.1) scale(0.84 1)" font-size="8.2" letter-spacing="0.33" fill="#1a1a1a" stroke="#222" stroke-width="0.08">Stockholm temperature MJJ</text>
<text transform="translate(287.2 146.5) scale(0.8 1)" font-size="8.4" text-anchor="middle" fill="#1a1a1a" stroke="#111" stroke-width="0.12">-5</text>
<text transform="translate(298.06 146.5) scale(0.8 1)" font-size="8.4" text-anchor="middle" fill="#1a1a1a" stroke="#111" stroke-width="0.12">-4</text>
<text transform="translate(308.92 146.5) scale(0.8 1)" font-size="8.4" text-anchor="middle" fill="#1a1a1a" stroke="#111" stroke-width="0.12">-3</text>
<text transform="translate(319.78 146.5) scale(0.8 1)" font-size="8.4" text-anchor="middle" fill="#1a1a1a" stroke="#111" stroke-width="0.12">-2</text>
<text transform="translate(330.64 146.5) scale(0.8 1)" font-size="8.4" text-anchor="middle" fill="#1a1a1a" stroke="#111" stroke-width="0.12">-1</text>
<text transform="translate(341.6 146.5) scale(0.8 1)" font-size="8.4" text-anchor="middle" fill="#1a1a1a" stroke="#111" stroke-width="0.12">0</text>
<text transform="translate(352.46 146.5) scale(0.8 1)" font-size="8.4" text-anchor="middle" fill="#1a1a1a" stroke="#111" stroke-width="0.12">1</text>
<text transform="translate(363.32 146.5) scale(0.8 1)" font-size="8.4" text-anchor="middle" fill="#1a1a1a" stroke="#111" stroke-width="0.12">2</text>
<text transform="translate(374.18 146.5) scale(0.8 1)" font-size="8.4" text-anchor="middle" fill="#1a1a1a" stroke="#111" stroke-width="0.12">3</text>
<text transform="translate(385.04 146.5) scale(0.8 1)" font-size="8.4" text-anchor="middle" fill="#1a1a1a" stroke="#111" stroke-width="0.12">4</text>
<text transform="translate(395.9 146.5) scale(0.8 1)" font-size="8.4" text-anchor="middle" fill="#1a1a1a" stroke="#111" stroke-width="0.12">5</text>
<text transform="translate(300.1 51.9) scale(0.84 1)" font-size="8.2" letter-spacing="0.33" fill="#1a1a1a" stroke="#222" stroke-width="0.08">Uppsala temperature MJJ</text>
<text transform="translate(280.7 56.1) scale(0.84 1)" font-size="8.4" text-anchor="end" fill="#1a1a1a" stroke="#111" stroke-width="0.12">1</text>
<text transform="translate(280.7 96.6) scale(0.84 1)" font-size="8.4" text-anchor="end" fill="#1a1a1a" stroke="#111" stroke-width="0.12">0</text>
<text transform="translate(280.7 137.1) scale(0.84 1)" font-size="8.4" text-anchor="end" fill="#1a1a1a" stroke="#111" stroke-width="0.12">-1</text>
<text transform="translate(406.5 147.4) scale(0.8 1)" font-size="8.4" text-anchor="middle" fill="#1a1a1a" stroke="#111" stroke-width="0.12">-5</text>
<text transform="translate(417.36 147.4) scale(0.8 1)" font-size="8.4" text-anchor="middle" fill="#1a1a1a" stroke="#111" stroke-width="0.12">-4</text>
<text transform="translate(428.22 147.4) scale(0.8 1)" font-size="8.4" text-anchor="middle" fill="#1a1a1a" stroke="#111" stroke-width="0.12">-3</text>
<text transform="translate(439.08 147.4) scale(0.8 1)" font-size="8.4" text-anchor="middle" fill="#1a1a1a" stroke="#111" stroke-width="0.12">-2</text>
<text transform="translate(449.94 147.4) scale(0.8 1)" font-size="8.4" text-anchor="middle" fill="#1a1a1a" stroke="#111" stroke-width="0.12">-1</text>
<text transform="translate(460.9 147.4) scale(0.8 1)" font-size="8.4" text-anchor="middle" fill="#1a1a1a" stroke="#111" stroke-width="0.12">0</text>
<text transform="translate(471.76 147.4) scale(0.8 1)" font-size="8.4" text-anchor="middle" fill="#1a1a1a" stroke="#111" stroke-width="0.12">1</text>
<text transform="translate(482.62 147.4) scale(0.8 1)" font-size="8.4" text-anchor="middle" fill="#1a1a1a" stroke="#111" stroke-width="0.12">2</text>
<text transform="translate(493.48 147.4) scale(0.8 1)" font-size="8.4" text-anchor="middle" fill="#1a1a1a" stroke="#111" stroke-width="0.12">3</text>
<text transform="translate(504.34 147.4) scale(0.8 1)" font-size="8.4" text-anchor="middle" fill="#1a1a1a" stroke="#111" stroke-width="0.12">4</text>
<text transform="translate(515.2 147.4) scale(0.8 1)" font-size="8.4" text-anchor="middle" fill="#1a1a1a" stroke="#111" stroke-width="0.12">5</text>
<text transform="translate(419.4 52.1) scale(0.84 1)" font-size="8.2" letter-spacing="0.33" fill="#1a1a1a" stroke="#222" stroke-width="0.08">Stockholm temperature MJJ</text>
<text transform="translate(548.4 146.5) scale(0.8 1)" font-size="8.4" text-anchor="middle" fill="#1a1a1a" stroke="#111" stroke-width="0.12">-5</text>
<text transform="translate(559.13 146.5) scale(0.8 1)" font-size="8.4" text-anchor="middle" fill="#1a1a1a" stroke="#111" stroke-width="0.12">-4</text>
<text transform="translate(569.86 146.5) scale(0.8 1)" font-size="8.4" text-anchor="middle" fill="#1a1a1a" stroke="#111" stroke-width="0.12">-3</text>
<text transform="translate(580.59 146.5) scale(0.8 1)" font-size="8.4" text-anchor="middle" fill="#1a1a1a" stroke="#111" stroke-width="0.12">-2</text>
<text transform="translate(591.32 146.5) scale(0.8 1)" font-size="8.4" text-anchor="middle" fill="#1a1a1a" stroke="#111" stroke-width="0.12">-1</text>
<text transform="translate(602.15 146.5) scale(0.8 1)" font-size="8.4" text-anchor="middle" fill="#1a1a1a" stroke="#111" stroke-width="0.12">0</text>
<text transform="translate(612.88 146.5) scale(0.8 1)" font-size="8.4" text-anchor="middle" fill="#1a1a1a" stroke="#111" stroke-width="0.12">1</text>
<text transform="translate(623.61 146.5) scale(0.8 1)" font-size="8.4" text-anchor="middle" fill="#1a1a1a" stroke="#111" stroke-width="0.12">2</text>
<text transform="translate(634.34 146.5) scale(0.8 1)" font-size="8.4" text-anchor="middle" fill="#1a1a1a" stroke="#111" stroke-width="0.12">3</text>
<text transform="translate(645.07 146.5) scale(0.8 1)" font-size="8.4" text-anchor="middle" fill="#1a1a1a" stroke="#111" stroke-width="0.12">4</text>
<text transform="translate(655.8 146.5) scale(0.8 1)" font-size="8.4" text-anchor="middle" fill="#1a1a1a" stroke="#111" stroke-width="0.12">5</text>
<text transform="translate(561.3 51.6) scale(0.84 1)" font-size="8.2" letter-spacing="0.33" fill="#1a1a1a" stroke="#222" stroke-width="0.08">Uppsala temperature MJJ</text>
<text transform="translate(541.9 55.8) scale(0.84 1)" font-size="8.4" text-anchor="end" fill="#1a1a1a" stroke="#111" stroke-width="0.12">1</text>
<text transform="translate(541.9 96.5) scale(0.84 1)" font-size="8.4" text-anchor="end" fill="#1a1a1a" stroke="#111" stroke-width="0.12">0</text>
<text transform="translate(541.9 137.1) scale(0.84 1)" font-size="8.4" text-anchor="end" fill="#1a1a1a" stroke="#111" stroke-width="0.12">-1</text>
<text transform="translate(666.5 146.7) scale(0.8 1)" font-size="8.4" text-anchor="middle" fill="#1a1a1a" stroke="#111" stroke-width="0.12">-5</text>
<text transform="translate(677.23 146.7) scale(0.8 1)" font-size="8.4" text-anchor="middle" fill="#1a1a1a" stroke="#111" stroke-width="0.12">-4</text>
<text transform="translate(687.96 146.7) scale(0.8 1)" font-size="8.4" text-anchor="middle" fill="#1a1a1a" stroke="#111" stroke-width="0.12">-3</text>
<text transform="translate(698.69 146.7) scale(0.8 1)" font-size="8.4" text-anchor="middle" fill="#1a1a1a" stroke="#111" stroke-width="0.12">-2</text>
<text transform="translate(709.42 146.7) scale(0.8 1)" font-size="8.4" text-anchor="middle" fill="#1a1a1a" stroke="#111" stroke-width="0.12">-1</text>
<text transform="translate(720.25 146.7) scale(0.8 1)" font-size="8.4" text-anchor="middle" fill="#1a1a1a" stroke="#111" stroke-width="0.12">0</text>
<text transform="translate(730.98 146.7) scale(0.8 1)" font-size="8.4" text-anchor="middle" fill="#1a1a1a" stroke="#111" stroke-width="0.12">1</text>
<text transform="translate(741.71 146.7) scale(0.8 1)" font-size="8.4" text-anchor="middle" fill="#1a1a1a" stroke="#111" stroke-width="0.12">2</text>
<text transform="translate(752.44 146.7) scale(0.8 1)" font-size="8.4" text-anchor="middle" fill="#1a1a1a" stroke="#111" stroke-width="0.12">3</text>
<text transform="translate(763.17 146.7) scale(0.8 1)" font-size="8.4" text-anchor="middle" fill="#1a1a1a" stroke="#111" stroke-width="0.12">4</text>
<text transform="translate(773.9 146.7) scale(0.8 1)" font-size="8.4" text-anchor="middle" fill="#1a1a1a" stroke="#111" stroke-width="0.12">5</text>
<text transform="translate(679.4 52.1) scale(0.84 1)" font-size="8.2" letter-spacing="0.33" fill="#1a1a1a" stroke="#222" stroke-width="0.08">Stockholm temperature MJJ</text>
<text transform="translate(29.4 275.5) scale(0.8 1)" font-size="8.4" text-anchor="middle" fill="#1a1a1a" stroke="#111" stroke-width="0.12">-5</text>
<text transform="translate(40.26 275.5) scale(0.8 1)" font-size="8.4" text-anchor="middle" fill="#1a1a1a" stroke="#111" stroke-width="0.12">-4</text>
<text transform="translate(51.12 275.5) scale(0.8 1)" font-size="8.4" text-anchor="middle" fill="#1a1a1a" stroke="#111" stroke-width="0.12">-3</text>
<text transform="translate(61.98 275.5) scale(0.8 1)" font-size="8.4" text-anchor="middle" fill="#1a1a1a" stroke="#111" stroke-width="0.12">-2</text>
<text transform="translate(72.84 275.5) scale(0.8 1)" font-size="8.4" text-anchor="middle" fill="#1a1a1a" stroke="#111" stroke-width="0.12">-1</text>
<text transform="translate(83.8 275.5) scale(0.8 1)" font-size="8.4" text-anchor="middle" fill="#1a1a1a" stroke="#111" stroke-width="0.12">0</text>
<text transform="translate(94.66 275.5) scale(0.8 1)" font-size="8.4" text-anchor="middle" fill="#1a1a1a" stroke="#111" stroke-width="0.12">1</text>
<text transform="translate(105.52 275.5) scale(0.8 1)" font-size="8.4" text-anchor="middle" fill="#1a1a1a" stroke="#111" stroke-width="0.12">2</text>
<text transform="translate(116.38 275.5) scale(0.8 1)" font-size="8.4" text-anchor="middle" fill="#1a1a1a" stroke="#111" stroke-width="0.12">3</text>
<text transform="translate(127.24 275.5) scale(0.8 1)" font-size="8.4" text-anchor="middle" fill="#1a1a1a" stroke="#111" stroke-width="0.12">4</text>
<text transform="translate(138.1 275.5) scale(0.8 1)" font-size="8.4" text-anchor="middle" fill="#1a1a1a" stroke="#111" stroke-width="0.12">5</text>
<text transform="translate(42.3 179.8) scale(0.84 1)" font-size="8.2" letter-spacing="0.33" fill="#1a1a1a" stroke="#222" stroke-width="0.08">Uppsala temperature JJA</text>
<text transform="translate(22.9 184) scale(0.84 1)" font-size="8.4" text-anchor="end" fill="#1a1a1a" stroke="#111" stroke-width="0.12">1</text>
<text transform="translate(22.9 225.2) scale(0.84 1)" font-size="8.4" text-anchor="end" fill="#1a1a1a" stroke="#111" stroke-width="0.12">0</text>
<text transform="translate(22.9 266.1) scale(0.84 1)" font-size="8.4" text-anchor="end" fill="#1a1a1a" stroke="#111" stroke-width="0.12">-1</text>
<text x="11.5" y="222.9" font-size="7" letter-spacing="0.37" text-anchor="middle" fill="#3a3a3a" transform="rotate(-90 11.5 222.9)">Temperature (SD)</text>
<text transform="translate(148.5 275.7) scale(0.8 1)" font-size="8.4" text-anchor="middle" fill="#1a1a1a" stroke="#111" stroke-width="0.12">-5</text>
<text transform="translate(159.4 275.7) scale(0.8 1)" font-size="8.4" text-anchor="middle" fill="#1a1a1a" stroke="#111" stroke-width="0.12">-4</text>
<text transform="translate(170.3 275.7) scale(0.8 1)" font-size="8.4" text-anchor="middle" fill="#1a1a1a" stroke="#111" stroke-width="0.12">-3</text>
<text transform="translate(181.2 275.7) scale(0.8 1)" font-size="8.4" text-anchor="middle" fill="#1a1a1a" stroke="#111" stroke-width="0.12">-2</text>
<text transform="translate(192.1 275.7) scale(0.8 1)" font-size="8.4" text-anchor="middle" fill="#1a1a1a" stroke="#111" stroke-width="0.12">-1</text>
<text transform="translate(203.1 275.7) scale(0.8 1)" font-size="8.4" text-anchor="middle" fill="#1a1a1a" stroke="#111" stroke-width="0.12">0</text>
<text transform="translate(214 275.7) scale(0.8 1)" font-size="8.4" text-anchor="middle" fill="#1a1a1a" stroke="#111" stroke-width="0.12">1</text>
<text transform="translate(224.9 275.7) scale(0.8 1)" font-size="8.4" text-anchor="middle" fill="#1a1a1a" stroke="#111" stroke-width="0.12">2</text>
<text transform="translate(235.8 275.7) scale(0.8 1)" font-size="8.4" text-anchor="middle" fill="#1a1a1a" stroke="#111" stroke-width="0.12">3</text>
<text transform="translate(246.7 275.7) scale(0.8 1)" font-size="8.4" text-anchor="middle" fill="#1a1a1a" stroke="#111" stroke-width="0.12">4</text>
<text transform="translate(257.6 275.7) scale(0.8 1)" font-size="8.4" text-anchor="middle" fill="#1a1a1a" stroke="#111" stroke-width="0.12">5</text>
<text transform="translate(161.4 180.7) scale(0.84 1)" font-size="8.2" letter-spacing="0.33" fill="#1a1a1a" stroke="#222" stroke-width="0.08">Stockholm temperature JJA</text>
<text transform="translate(287.3 277.5) scale(0.8 1)" font-size="8.4" text-anchor="middle" fill="#1a1a1a" stroke="#111" stroke-width="0.12">-5</text>
<text transform="translate(298.13 277.5) scale(0.8 1)" font-size="8.4" text-anchor="middle" fill="#1a1a1a" stroke="#111" stroke-width="0.12">-4</text>
<text transform="translate(308.96 277.5) scale(0.8 1)" font-size="8.4" text-anchor="middle" fill="#1a1a1a" stroke="#111" stroke-width="0.12">-3</text>
<text transform="translate(319.79 277.5) scale(0.8 1)" font-size="8.4" text-anchor="middle" fill="#1a1a1a" stroke="#111" stroke-width="0.12">-2</text>
<text transform="translate(330.62 277.5) scale(0.8 1)" font-size="8.4" text-anchor="middle" fill="#1a1a1a" stroke="#111" stroke-width="0.12">-1</text>
<text transform="translate(341.55 277.5) scale(0.8 1)" font-size="8.4" text-anchor="middle" fill="#1a1a1a" stroke="#111" stroke-width="0.12">0</text>
<text transform="translate(352.38 277.5) scale(0.8 1)" font-size="8.4" text-anchor="middle" fill="#1a1a1a" stroke="#111" stroke-width="0.12">1</text>
<text transform="translate(363.21 277.5) scale(0.8 1)" font-size="8.4" text-anchor="middle" fill="#1a1a1a" stroke="#111" stroke-width="0.12">2</text>
<text transform="translate(374.04 277.5) scale(0.8 1)" font-size="8.4" text-anchor="middle" fill="#1a1a1a" stroke="#111" stroke-width="0.12">3</text>
<text transform="translate(384.87 277.5) scale(0.8 1)" font-size="8.4" text-anchor="middle" fill="#1a1a1a" stroke="#111" stroke-width="0.12">4</text>
<text transform="translate(395.7 277.5) scale(0.8 1)" font-size="8.4" text-anchor="middle" fill="#1a1a1a" stroke="#111" stroke-width="0.12">5</text>
<text transform="translate(300.2 182.1) scale(0.84 1)" font-size="8.2" letter-spacing="0.33" fill="#1a1a1a" stroke="#222" stroke-width="0.08">Uppsala temperature JJA</text>
<text transform="translate(280.8 186.3) scale(0.84 1)" font-size="8.4" text-anchor="end" fill="#1a1a1a" stroke="#111" stroke-width="0.12">1</text>
<text transform="translate(280.8 227.1) scale(0.84 1)" font-size="8.4" text-anchor="end" fill="#1a1a1a" stroke="#111" stroke-width="0.12">0</text>
<text transform="translate(280.8 268.1) scale(0.84 1)" font-size="8.4" text-anchor="end" fill="#1a1a1a" stroke="#111" stroke-width="0.12">-1</text>
<text transform="translate(407.3 277.2) scale(0.8 1)" font-size="8.4" text-anchor="middle" fill="#1a1a1a" stroke="#111" stroke-width="0.12">-5</text>
<text transform="translate(418.08 277.2) scale(0.8 1)" font-size="8.4" text-anchor="middle" fill="#1a1a1a" stroke="#111" stroke-width="0.12">-4</text>
<text transform="translate(428.86 277.2) scale(0.8 1)" font-size="8.4" text-anchor="middle" fill="#1a1a1a" stroke="#111" stroke-width="0.12">-3</text>
<text transform="translate(439.64 277.2) scale(0.8 1)" font-size="8.4" text-anchor="middle" fill="#1a1a1a" stroke="#111" stroke-width="0.12">-2</text>
<text transform="translate(450.42 277.2) scale(0.8 1)" font-size="8.4" text-anchor="middle" fill="#1a1a1a" stroke="#111" stroke-width="0.12">-1</text>
<text transform="translate(461.3 277.2) scale(0.8 1)" font-size="8.4" text-anchor="middle" fill="#1a1a1a" stroke="#111" stroke-width="0.12">0</text>
<text transform="translate(472.08 277.2) scale(0.8 1)" font-size="8.4" text-anchor="middle" fill="#1a1a1a" stroke="#111" stroke-width="0.12">1</text>
<text transform="translate(482.86 277.2) scale(0.8 1)" font-size="8.4" text-anchor="middle" fill="#1a1a1a" stroke="#111" stroke-width="0.12">2</text>
<text transform="translate(493.64 277.2) scale(0.8 1)" font-size="8.4" text-anchor="middle" fill="#1a1a1a" stroke="#111" stroke-width="0.12">3</text>
<text transform="translate(504.42 277.2) scale(0.8 1)" font-size="8.4" text-anchor="middle" fill="#1a1a1a" stroke="#111" stroke-width="0.12">4</text>
<text transform="translate(515.2 277.2) scale(0.8 1)" font-size="8.4" text-anchor="middle" fill="#1a1a1a" stroke="#111" stroke-width="0.12">5</text>
<text transform="translate(420.2 182.1) scale(0.84 1)" font-size="8.2" letter-spacing="0.33" fill="#1a1a1a" stroke="#222" stroke-width="0.08">Stockholm temperature JJA</text>
<text transform="translate(548.4 277.5) scale(0.8 1)" font-size="8.4" text-anchor="middle" fill="#1a1a1a" stroke="#111" stroke-width="0.12">-5</text>
<text transform="translate(559.14 277.5) scale(0.8 1)" font-size="8.4" text-anchor="middle" fill="#1a1a1a" stroke="#111" stroke-width="0.12">-4</text>
<text transform="translate(569.88 277.5) scale(0.8 1)" font-size="8.4" text-anchor="middle" fill="#1a1a1a" stroke="#111" stroke-width="0.12">-3</text>
<text transform="translate(580.62 277.5) scale(0.8 1)" font-size="8.4" text-anchor="middle" fill="#1a1a1a" stroke="#111" stroke-width="0.12">-2</text>
<text transform="translate(591.36 277.5) scale(0.8 1)" font-size="8.4" text-anchor="middle" fill="#1a1a1a" stroke="#111" stroke-width="0.12">-1</text>
<text transform="translate(602.2 277.5) scale(0.8 1)" font-size="8.4" text-anchor="middle" fill="#1a1a1a" stroke="#111" stroke-width="0.12">0</text>
<text transform="translate(612.94 277.5) scale(0.8 1)" font-size="8.4" text-anchor="middle" fill="#1a1a1a" stroke="#111" stroke-width="0.12">1</text>
<text transform="translate(623.68 277.5) scale(0.8 1)" font-size="8.4" text-anchor="middle" fill="#1a1a1a" stroke="#111" stroke-width="0.12">2</text>
<text transform="translate(634.42 277.5) scale(0.8 1)" font-size="8.4" text-anchor="middle" fill="#1a1a1a" stroke="#111" stroke-width="0.12">3</text>
<text transform="translate(645.16 277.5) scale(0.8 1)" font-size="8.4" text-anchor="middle" fill="#1a1a1a" stroke="#111" stroke-width="0.12">4</text>
<text transform="translate(655.9 277.5) scale(0.8 1)" font-size="8.4" text-anchor="middle" fill="#1a1a1a" stroke="#111" stroke-width="0.12">5</text>
<text transform="translate(561.3 182.7) scale(0.84 1)" font-size="8.2" letter-spacing="0.33" fill="#1a1a1a" stroke="#222" stroke-width="0.08">Uppsala temperature JJA</text>
<text transform="translate(541.9 186.9) scale(0.84 1)" font-size="8.4" text-anchor="end" fill="#1a1a1a" stroke="#111" stroke-width="0.12">1</text>
<text transform="translate(541.9 227.3) scale(0.84 1)" font-size="8.4" text-anchor="end" fill="#1a1a1a" stroke="#111" stroke-width="0.12">0</text>
<text transform="translate(541.9 268.1) scale(0.84 1)" font-size="8.4" text-anchor="end" fill="#1a1a1a" stroke="#111" stroke-width="0.12">-1</text>
<text transform="translate(666.8 277.6) scale(0.8 1)" font-size="8.4" text-anchor="middle" fill="#1a1a1a" stroke="#111" stroke-width="0.12">-5</text>
<text transform="translate(677.53 277.6) scale(0.8 1)" font-size="8.4" text-anchor="middle" fill="#1a1a1a" stroke="#111" stroke-width="0.12">-4</text>
<text transform="translate(688.26 277.6) scale(0.8 1)" font-size="8.4" text-anchor="middle" fill="#1a1a1a" stroke="#111" stroke-width="0.12">-3</text>
<text transform="translate(698.99 277.6) scale(0.8 1)" font-size="8.4" text-anchor="middle" fill="#1a1a1a" stroke="#111" stroke-width="0.12">-2</text>
<text transform="translate(709.72 277.6) scale(0.8 1)" font-size="8.4" text-anchor="middle" fill="#1a1a1a" stroke="#111" stroke-width="0.12">-1</text>
<text transform="translate(720.55 277.6) scale(0.8 1)" font-size="8.4" text-anchor="middle" fill="#1a1a1a" stroke="#111" stroke-width="0.12">0</text>
<text transform="translate(731.28 277.6) scale(0.8 1)" font-size="8.4" text-anchor="middle" fill="#1a1a1a" stroke="#111" stroke-width="0.12">1</text>
<text transform="translate(742.01 277.6) scale(0.8 1)" font-size="8.4" text-anchor="middle" fill="#1a1a1a" stroke="#111" stroke-width="0.12">2</text>
<text transform="translate(752.74 277.6) scale(0.8 1)" font-size="8.4" text-anchor="middle" fill="#1a1a1a" stroke="#111" stroke-width="0.12">3</text>
<text transform="translate(763.47 277.6) scale(0.8 1)" font-size="8.4" text-anchor="middle" fill="#1a1a1a" stroke="#111" stroke-width="0.12">4</text>
<text transform="translate(774.2 277.6) scale(0.8 1)" font-size="8.4" text-anchor="middle" fill="#1a1a1a" stroke="#111" stroke-width="0.12">5</text>
<text transform="translate(679.7 183.1) scale(0.84 1)" font-size="8.2" letter-spacing="0.33" fill="#1a1a1a" stroke="#222" stroke-width="0.08">Stockholm temperature JJA</text>
</svg>
</body></html>
